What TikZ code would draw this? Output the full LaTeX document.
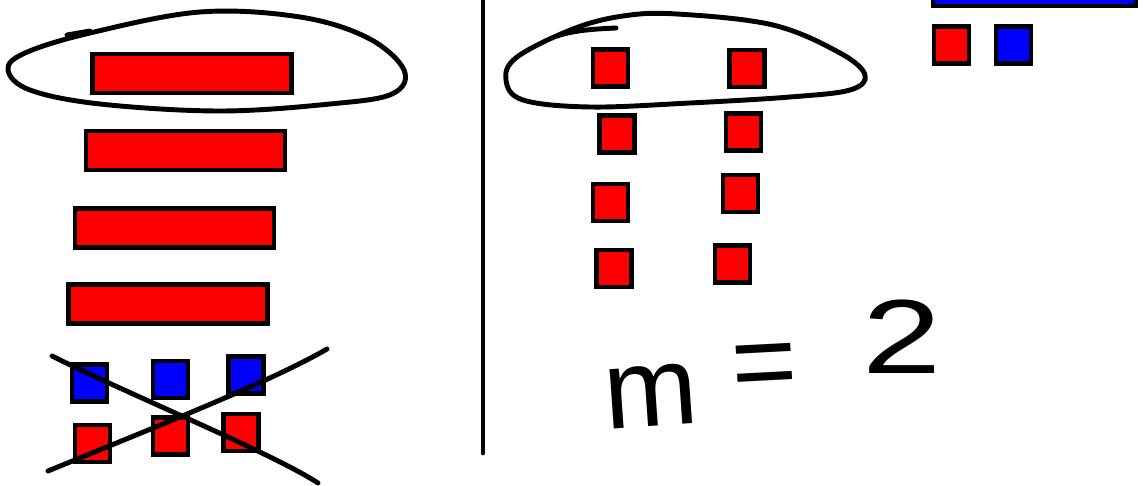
\documentclass[tikz,border=0pt]{standalone}
\usepackage{fontspec}
\newfontfamily\mao{Liberation Sans}
\usepackage{tikz}
\usetikzlibrary{calc}
\usepackage{xcolor}
\definecolor{vermelho}{RGB}{255, 0, 0}
\definecolor{azul}{RGB}{0, 0, 255}
\tikzset{
  peca/.style={draw=black, line width=2.6pt, inner sep=0pt},
  barra/.style={peca, fill=vermelho, minimum width=3.98cm, minimum height=0.78cm},
  quadV/.style={peca, fill=vermelho, minimum width=0.7cm, minimum height=0.74cm},
  quadA/.style={peca, fill=azul, minimum width=0.7cm, minimum height=0.74cm},
  traco/.style={line width=2.8pt, line cap=round, line join=round},
  letra/.style={inner sep=0pt, font=\mao\fontsize{64}{64}\selectfont},
}

\begin{document}
\begin{tikzpicture}[x=0.02cm, y=-0.02cm]

\useasboundingbox (0,0) rectangle (1146,486);
\clip (0,0) rectangle (1146,486);

% lado esquerdo
\node[barra] (b1) at (192,73.5) {};
\node[barra] (b2) at (185.5,150.5) {};
\node[barra] (b3) at (174.5,228) {};
\node[barra] (b4) at (168,304) {};

\node[quadA] (a1) at (89.5,383) {};
\node[quadA] (a2) at (170.5,379.5) {};
\node[quadA] (a3) at (246,375) {};
\node[quadV] (v1) at (92.5,443.5) {};
\node[quadV] (v2) at (170.5,436) {};
\node[quadV] (v3) at (241,432.5) {};

\draw[traco] plot[smooth cycle, tension=0.6] coordinates {
  (200,12) (300,17) (368,38) (404,70) (392,94) (330,104) (220,111)
  (100,104) (30,90) (8,70) (25,53) (90,33)};
\draw[traco] (67,35) -- (90,31);

\draw[traco] (52,356) .. controls (130,395) and (270,452) .. (318,483);
\draw[traco] (48,471) .. controls (160,425) and (270,382) .. (327,349);

% divisoria
\draw[traco] (483,0) -- (483,453);

% lado direito
\node[quadV] (e1) at (610.5,68) {};
\node[quadV] (e2) at (617,134) {};
\node[quadV] (e3) at (610.5,202.5) {};
\node[quadV] (e4) at (614,268.5) {};
\node[quadV] (d1) at (747,68.5) {};
\node[quadV] (d2) at (743.5,132) {};
\node[quadV] (d3) at (740.5,193.5) {};
\node[quadV] (d4) at (732.5,264) {};

\draw[traco] plot[smooth cycle, tension=0.6] coordinates {
  (677,14) (773,25) (840,53) (865,75) (850,90) (790,97) (690,103)
  (590,107) (523,100) (506,80) (517,57) (573,29) (623,16)};
\draw[traco] (557,36) .. controls (575,30) and (595,29) .. (616,28);

% canto superior
\draw[peca, fill=azul] (933,-40) rectangle (1136,6);
\node[quadV] (c1) at (951.5,45) {};
\node[quadA] (c2) at (1013.5,45) {};

% m = 2
\node[letra, rotate=4] (m) at (651,396) {m};
\node[letra, rotate=3] (igual) at (765,372) {=};
\node[letra, font=\mao\fontsize{60}{60}\selectfont, xscale=1.35] (dois) at (902,337) {2};

\end{tikzpicture}
\end{document}
